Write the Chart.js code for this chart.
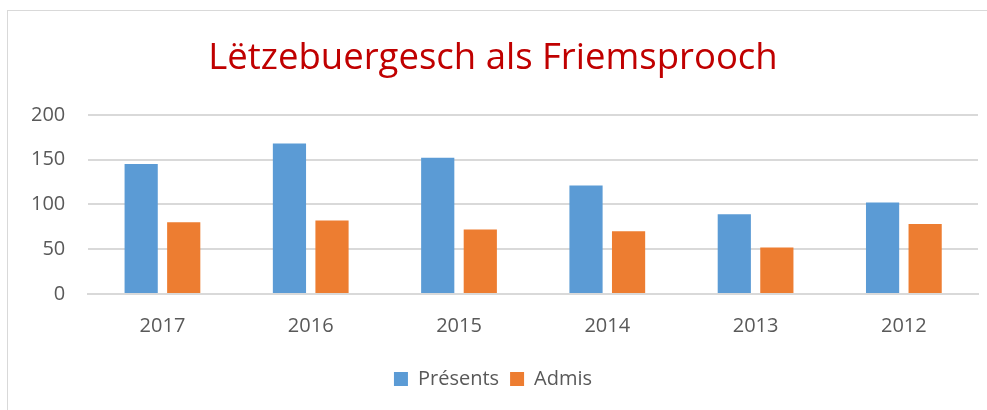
<!DOCTYPE html>
<html>
<head>
<meta charset="UTF-8">
<title>Lëtzebuergesch als Friemsprooch</title>
<script src="https://cdn.jsdelivr.net/npm/chart.js@4.4.0/dist/chart.umd.min.js"></script>
<style>
	body { margin:0; background:#fff; overflow:hidden; }
	#box { position:absolute; left:7px; top:10px; width:1006px; height:400px; border-left:1px solid #d9d9d9; border-top:1px solid #d9d9d9; }
</style>
</head>
<body>
<div id="box"><canvas id="myChart"></canvas></div>
<script>
	// data
	let years = ['2017', '2016', '2015', '2014', '2013', '2012'];
	let presents = [145, 168, 152, 121, 89, 102];
	let admis = [80, 82, 72, 70, 52, 78];
	let yTicks = [0, 50, 100, 150, 200];

	let fontName = "'Open Sans', 'Noto Sans', sans-serif";

	new Chart('myChart', {
		type: 'bar',
		data: {
			labels: years,
			datasets: [{
				label: 'Présents',
				backgroundColor: '#5b9bd5',
				data: presents
			}, {
				label: 'Admis',
				backgroundColor: '#ed7d31',
				data: admis
			}]
		},
		options: {
			responsive: true,
			maintainAspectRatio: false,
			animation: false,
			categoryPercentage: 0.574,
			barPercentage: 0.78,
			layout: { padding: { left: 0, right: 36, top: 0, bottom: 12 } },
			plugins: {
				title: {
					display: true,
					text: 'Lëtzebuergesch als Friemsprooch',
					color: '#c00000',
					font: { family: fontName, size: 36.5, weight: 'normal' },
					padding: { top: 26, bottom: 34 }
				},
				legend: {
					position: 'bottom',
					labels: {
						color: '#595959',
						font: { family: fontName, size: 20 },
						boxWidth: 14,
						boxHeight: 14,
						padding: 11
					}
				},
				tooltip: { enabled: false }
			},
			scales: {
				x: {
					grid: { display: false, drawTicks: false },
					border: { color: '#d9d9d9', width: 2 },
					ticks: { color: '#595959', font: { family: fontName, size: 20 }, padding: 20 }
				},
				y: {
					min: 0,
					max: 200,
					afterBuildTicks: function(axis) {
						axis.ticks = yTicks.map(function(v) { return { value: v }; });
					},
					grid: { color: '#d9d9d9', lineWidth: 2, drawTicks: false },
					border: { display: false },
					ticks: { color: '#595959', font: { family: fontName, size: 20 }, padding: 23 }
				}
			}
		}
	});
</script>
</body>
</html>
